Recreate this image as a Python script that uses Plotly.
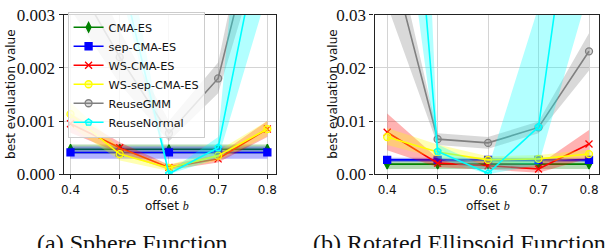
import plotly.graph_objects as go

offsets = [0.4, 0.5, 0.6, 0.7, 0.8]
names = ["CMA-ES", "sep-CMA-ES", "WS-CMA-ES", "WS-sep-CMA-ES", "ReuseGMM", "ReuseNormal"]

# (a) Sphere Function
sph_cma = [0.00047, 0.00047, 0.00046, 0.00047, 0.00047]
sph_cma_lo = [0.00038, 0.00038, 0.00037, 0.00038, 0.00038]
sph_cma_hi = [0.00056, 0.00056, 0.00055, 0.00056, 0.00056]
sph_sep = [0.00041, 0.00041, 0.00041, 0.00041, 0.00041]
sph_sep_lo = [0.00029, 0.00029, 0.00029, 0.00029, 0.00029]
sph_sep_hi = [0.00052, 0.00052, 0.00052, 0.00052, 0.00052]
sph_ws = [0.00095, 0.00050, 0.00013, 0.00029, 0.00085]
sph_ws_lo = [0.00078, 0.00040, 0.00008, 0.00022, 0.00070]
sph_ws_hi = [0.00114, 0.00060, 0.00018, 0.00036, 0.00100]
sph_wssep = [0.00113, 0.00038, 0.00012, 0.00035, 0.00085]
sph_wssep_lo = [0.00090, 0.00026, 0.00006, 0.00026, 0.00072]
sph_wssep_hi = [0.00135, 0.00050, 0.00018, 0.00044, 0.00100]
sph_gmm = [0.0038, 0.0022, 0.00077, 0.0018, 0.0055]
sph_gmm_lo = [0.0031, 0.0017, 0.00062, 0.00152, 0.0046]
sph_gmm_hi = [0.0046, 0.0027, 0.00100, 0.0021, 0.0065]
sph_norm = [0.0080, 0.0039, 0.00001, 0.00050, 0.0051]
sph_norm_lo = [0.0060, 0.0035, 0.0, 0.00030, 0.0034]
sph_norm_hi = [0.0100, 0.0049, 0.00005, 0.00070, 0.0107]

# (b) Rotated Ellipsoid Function
ell_cma = [0.0019, 0.0019, 0.0019, 0.0019, 0.0019]
ell_cma_lo = [0.0010, 0.0010, 0.0010, 0.0010, 0.0010]
ell_cma_hi = [0.0029, 0.0029, 0.0029, 0.0029, 0.0029]
ell_sep = [0.0027, 0.0027, 0.0027, 0.0027, 0.0027]
ell_sep_lo = [0.0023, 0.0023, 0.0023, 0.0023, 0.0023]
ell_sep_hi = [0.0031, 0.0031, 0.0031, 0.0031, 0.0031]
ell_ws = [0.0079, 0.0021, 0.0016, 0.0010, 0.0057]
ell_ws_lo = [0.0045, 0.0013, 0.0009, 0.0003, 0.0030]
ell_ws_hi = [0.0114, 0.0030, 0.0023, 0.0018, 0.0083]
ell_wssep = [0.0070, 0.0042, 0.0027, 0.0029, 0.0038]
ell_wssep_lo = [0.0055, 0.0030, 0.0021, 0.0022, 0.0031]
ell_wssep_hi = [0.0087, 0.0056, 0.0034, 0.0036, 0.0046]
ell_gmm = [0.0432, 0.0066, 0.0059, 0.0088, 0.0231]
ell_gmm_lo = [0.0318, 0.0055, 0.0048, 0.0077, 0.0195]
ell_gmm_hi = [0.0490, 0.0077, 0.0070, 0.0099, 0.0265]
ell_norm = [0.118, 0.0043, 0.0002, 0.0089, 0.0767]
ell_norm_lo = [0.0733, 0.0030, 0.0, 0.0018, 0.0346]
ell_norm_hi = [0.227, 0.0056, 0.0012, 0.0315, 0.150]

sph_ticks = [0.0, 0.001, 0.002, 0.003]
sph_ticktext = ["0.000", "0.001", "0.002", "0.003"]
ell_ticks = [0.0, 0.01, 0.02, 0.03]
ell_ticktext = ["0.00", "0.01", "0.02", "0.03"]
x_ticktext = ["0.4", "0.5", "0.6", "0.7", "0.8"]

colors = ["#008000", "#0000ff", "#ff0000", "#ffff00", "#808080", "#00ffff"]
bands = ["rgba(0,128,0,0.3)", "rgba(0,0,255,0.3)", "rgba(255,0,0,0.3)",
         "rgba(255,255,0,0.3)", "rgba(128,128,128,0.3)", "rgba(0,255,255,0.3)"]
symbols = ["diamond-tall", "square", "x-thin", "circle", "circle", "pentagon"]
fills = ["#008000", "#0000ff", "#ff0000", "rgba(255,255,0,0.35)", "rgba(128,128,128,0.3)", "rgba(0,255,255,0.3)"]

sphere = [(sph_cma, sph_cma_lo, sph_cma_hi), (sph_sep, sph_sep_lo, sph_sep_hi),
          (sph_ws, sph_ws_lo, sph_ws_hi), (sph_wssep, sph_wssep_lo, sph_wssep_hi),
          (sph_gmm, sph_gmm_lo, sph_gmm_hi), (sph_norm, sph_norm_lo, sph_norm_hi)]
ellip = [(ell_cma, ell_cma_lo, ell_cma_hi), (ell_sep, ell_sep_lo, ell_sep_hi),
         (ell_ws, ell_ws_lo, ell_ws_hi), (ell_wssep, ell_wssep_lo, ell_wssep_hi),
         (ell_gmm, ell_gmm_lo, ell_gmm_hi), (ell_norm, ell_norm_lo, ell_norm_hi)]

fig = go.Figure()

def add_panel(data, xa, ya, legend):
    for i, (m, lo, hi) in enumerate(data):
        fig.add_trace(go.Scatter(x=offsets, y=lo, mode="lines", line=dict(width=0),
                                 xaxis=xa, yaxis=ya, showlegend=False, hoverinfo="skip"))
        fig.add_trace(go.Scatter(x=offsets, y=hi, mode="lines", line=dict(width=0),
                                 fill="tonexty", fillcolor=bands[i],
                                 xaxis=xa, yaxis=ya, showlegend=False, hoverinfo="skip"))
        mk = dict(symbol=symbols[i], size=7,
                  color=fills[i], line=dict(color=colors[i], width=1.3))
        fig.add_trace(go.Scatter(x=offsets, y=m, mode="lines+markers", name=names[i],
                                 line=dict(color=colors[i], width=1.6), marker=mk,
                                 xaxis=xa, yaxis=ya, showlegend=legend))

add_panel(sphere, "x", "y", True)
add_panel(ellip, "x2", "y2", False)

W, H = 614, 248
def px(xp):
    return xp / W
def py(yp):
    return 1 - yp / H

grid = "#d4d4d4"
axis_common = dict(showline=True, linecolor="#222222", linewidth=1.2, mirror=True,
                   ticks="outside", ticklen=4, tickcolor="#222222",
                   showgrid=True, gridcolor=grid, gridwidth=1, zeroline=False,
                   ticklabeloverflow="allow")

fig.update_layout(
    width=W, height=H,
    margin=dict(l=0, r=0, t=0, b=0),
    paper_bgcolor="white", plot_bgcolor="white",
    xaxis=dict(domain=[px(61), px(275)], range=[0.386, 0.818], anchor="y",
               tickvals=offsets, ticktext=x_ticktext,
               tickfont=dict(family="DejaVu Sans", size=12, color="#111"), **axis_common),
    yaxis=dict(domain=[py(179), py(6)], range=[0, 0.0030006], anchor="x",
               tickvals=sph_ticks, ticktext=sph_ticktext,
               tickfont=dict(family="Liberation Serif", size=17, color="#111"), **axis_common),
    xaxis2=dict(domain=[px(374), px(600)], range=[0.375, 0.82], anchor="y2",
                tickvals=offsets, ticktext=x_ticktext,
                tickfont=dict(family="DejaVu Sans", size=12, color="#111"), **axis_common),
    yaxis2=dict(domain=[py(179), py(6)], range=[0, 0.030006], anchor="x2",
                tickvals=ell_ticks, ticktext=ell_ticktext,
                tickfont=dict(family="Liberation Serif", size=17, color="#111"), **axis_common),
    legend=dict(x=px(65), y=py(3), xanchor="left", yanchor="top",
                bgcolor="rgba(255,255,255,0.8)", bordercolor="#cccccc", borderwidth=1,
                font=dict(family="DejaVu Sans", size=11.3, color="#111"),
                itemwidth=30, tracegroupgap=0, traceorder="normal"),
    showlegend=True,
)

ann_font = dict(family="DejaVu Sans", size=12, color="#111")
xt = 'offset <i style="font-family:\'Liberation Serif\'">b</i>'
fig.add_annotation(x=px(165), y=py(213), xref="paper", yref="paper", text=xt,
                   showarrow=False, font=ann_font, xanchor="center", yanchor="middle")
fig.add_annotation(x=px(488), y=py(213), xref="paper", yref="paper", text=xt,
                   showarrow=False, font=ann_font, xanchor="center", yanchor="middle")
fig.add_annotation(x=px(8), y=py(92), xref="paper", yref="paper", text="best evaluation value",
                   showarrow=False, font=ann_font, textangle=-90, xanchor="center", yanchor="middle")
fig.add_annotation(x=px(332), y=py(92), xref="paper", yref="paper", text="best evaluation value",
                   showarrow=False, font=ann_font, textangle=-90, xanchor="center", yanchor="middle")

cap_font = dict(family="Liberation Serif", size=24, color="#111")
fig.add_annotation(x=px(32), y=py(253), xref="paper", yref="paper", text="(a) Sphere Function",
                   showarrow=False, font=cap_font, xanchor="left", yanchor="middle")
fig.add_annotation(x=px(310), y=py(253), xref="paper", yref="paper", text="(b) Rotated Ellipsoid Function",
                   showarrow=False, font=cap_font, xanchor="left", yanchor="middle")

fig.write_html("out.html", config={"displayModeBar": False},
               post_script="document.body.style.margin='0';")
